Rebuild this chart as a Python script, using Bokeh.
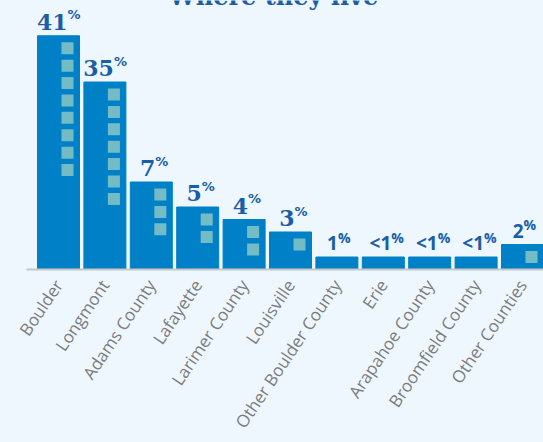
import math
from bokeh.plotting import figure
from bokeh.models import ColumnDataSource, Range1d, FixedTicker, Label, GlobalInlineStyleSheet
from bokeh.core.properties import value
from bokeh.embed import file_html
from bokeh.resources import INLINE

# ---- data ----
categories = ["Boulder", "Longmont", "Adams County", "Lafayette", "Larimer County",
              "Louisville", "Other Boulder County", "Erie", "Arapahoe County",
              "Broomfield County", "Other Counties"]
pct = [41, 35, 7, 5, 4, 3, 1, 0.5, 0.5, 0.5, 2]
value_labels = ["41", "35", "7", "5", "4", "3", "1", "<1", "<1", "<1", "2"]
# drawn bar heights (the original uses a compressed scale for the two largest bars)
bar_heights = [18.7, 15.0, 7.0, 5.0, 4.0, 3.0, 1.0, 1.0, 1.0, 1.0, 2.0]
square_counts = [8, 7, 3, 2, 2, 1, 0, 0, 0, 0, 1]
title_text = "Where they live"

# ---- style ----
BG = "#EDF7FD"
BAR = "#0080C6"
SQ = "#74BCC5"
LBL = "#1A5EA8"
AXC = "#7D7D7D"
W, H = 543, 442
PX = 12.5          # pixels per height unit
STEP = 46.4        # pixels per category
LEFT, BOTTOM = 26, 173
FRAME_H = H - BOTTOM

p = figure(width=W, height=H, output_backend="svg", toolbar_location=None,
           x_range=Range1d(-32 / STEP, -32 / STEP + (W - LEFT) / STEP),
           y_range=Range1d(0, FRAME_H / PX),
           y_axis_location=None,
           min_border_left=LEFT, min_border_right=0, min_border_top=0,
           min_border_bottom=BOTTOM)
p.stylesheets = [GlobalInlineStyleSheet(css=f"html,body{{margin:0;padding:0;background:{BG};overflow:hidden}}")]
p.background_fill_color = BG
p.border_fill_color = BG
p.outline_line_color = None
p.grid.visible = False

xs = list(range(len(categories)))
src = ColumnDataSource(dict(x=xs, top=bar_heights))
p.vbar(x="x", top="top", bottom=0, width=42 / STEP, color=BAR, source=src)

# squares
sq_x, sq_y = [], []
for i, (h, n) in enumerate(zip(bar_heights, square_counts)):
    for k in range(n):
        sq_x.append(i + 9 / STEP)
        sq_y.append(h - (12.5 + 17.4 * k) / PX)
p.scatter(sq_x, sq_y, marker="square", size=12, color=SQ, line_color=None)

# value labels
big = dict(x=[], y=[], t=[], off=[])
small = dict(x=[], y=[], t=[], off=[])
for i, (v, t, h) in enumerate(zip(pct, value_labels, bar_heights)):
    if v >= 3:
        d = big; off = 4 + 5 * (len(t) - 1)
    else:
        d = small; off = 1 + 7 * (len(t) - 1)
    d["x"].append(i); d["y"].append(h); d["t"].append(t); d["off"].append(off)

bsrc = ColumnDataSource(big)
ssrc = ColumnDataSource(small)
p.text(x="x", y="y", text="t", x_offset="off", y_offset=-14, source=bsrc,
       text_align="right", text_baseline="alphabetic", text_color=LBL,
       text_font=value("DejaVu Serif"), text_font_style="bold", text_font_size="22px")
p.text(x="x", y="y", text=value("%"), x_offset="off", y_offset=-21, source=bsrc,
       text_align="left", text_baseline="alphabetic", text_color=LBL,
       text_font=value("DejaVu Sans"), text_font_style="bold", text_font_size="13px")
p.text(x="x", y="y", text="t", x_offset="off", y_offset=-14, source=ssrc,
       text_align="right", text_baseline="alphabetic", text_color=LBL,
       text_font=value("Open Sans"), text_font_style="bold", text_font_size="19px")
p.text(x="x", y="y", text=value("%"), x_offset="off", y_offset=-20, source=ssrc,
       text_align="left", text_baseline="alphabetic", text_color=LBL,
       text_font=value("Open Sans"), text_font_style="bold", text_font_size="14px")

# title (cut off at the top, as in the original)
p.add_layout(Label(x=273 - LEFT, y=FRAME_H + 4, x_units="screen", y_units="screen",
                   text=title_text, text_align="center", text_baseline="alphabetic",
                   text_font="DejaVu Serif", text_font_style="bold",
                   text_font_size="24px", text_color=LBL))

# axis
ax = p.xaxis[0]
ax.ticker = FixedTicker(ticks=xs)
ax.major_label_overrides = {i: c for i, c in enumerate(categories)}
ax.major_label_orientation = math.radians(56)
ax.major_label_text_font = "Open Sans"
ax.major_label_text_font_size = "17px"
ax.major_label_text_color = AXC
ax.major_label_standoff = 6
ax.axis_line_color = "#C8C8C8"
ax.axis_line_width = 2
ax.major_tick_line_color = None
ax.minor_tick_line_color = None

open("out.html", "w").write(file_html(p, INLINE))
